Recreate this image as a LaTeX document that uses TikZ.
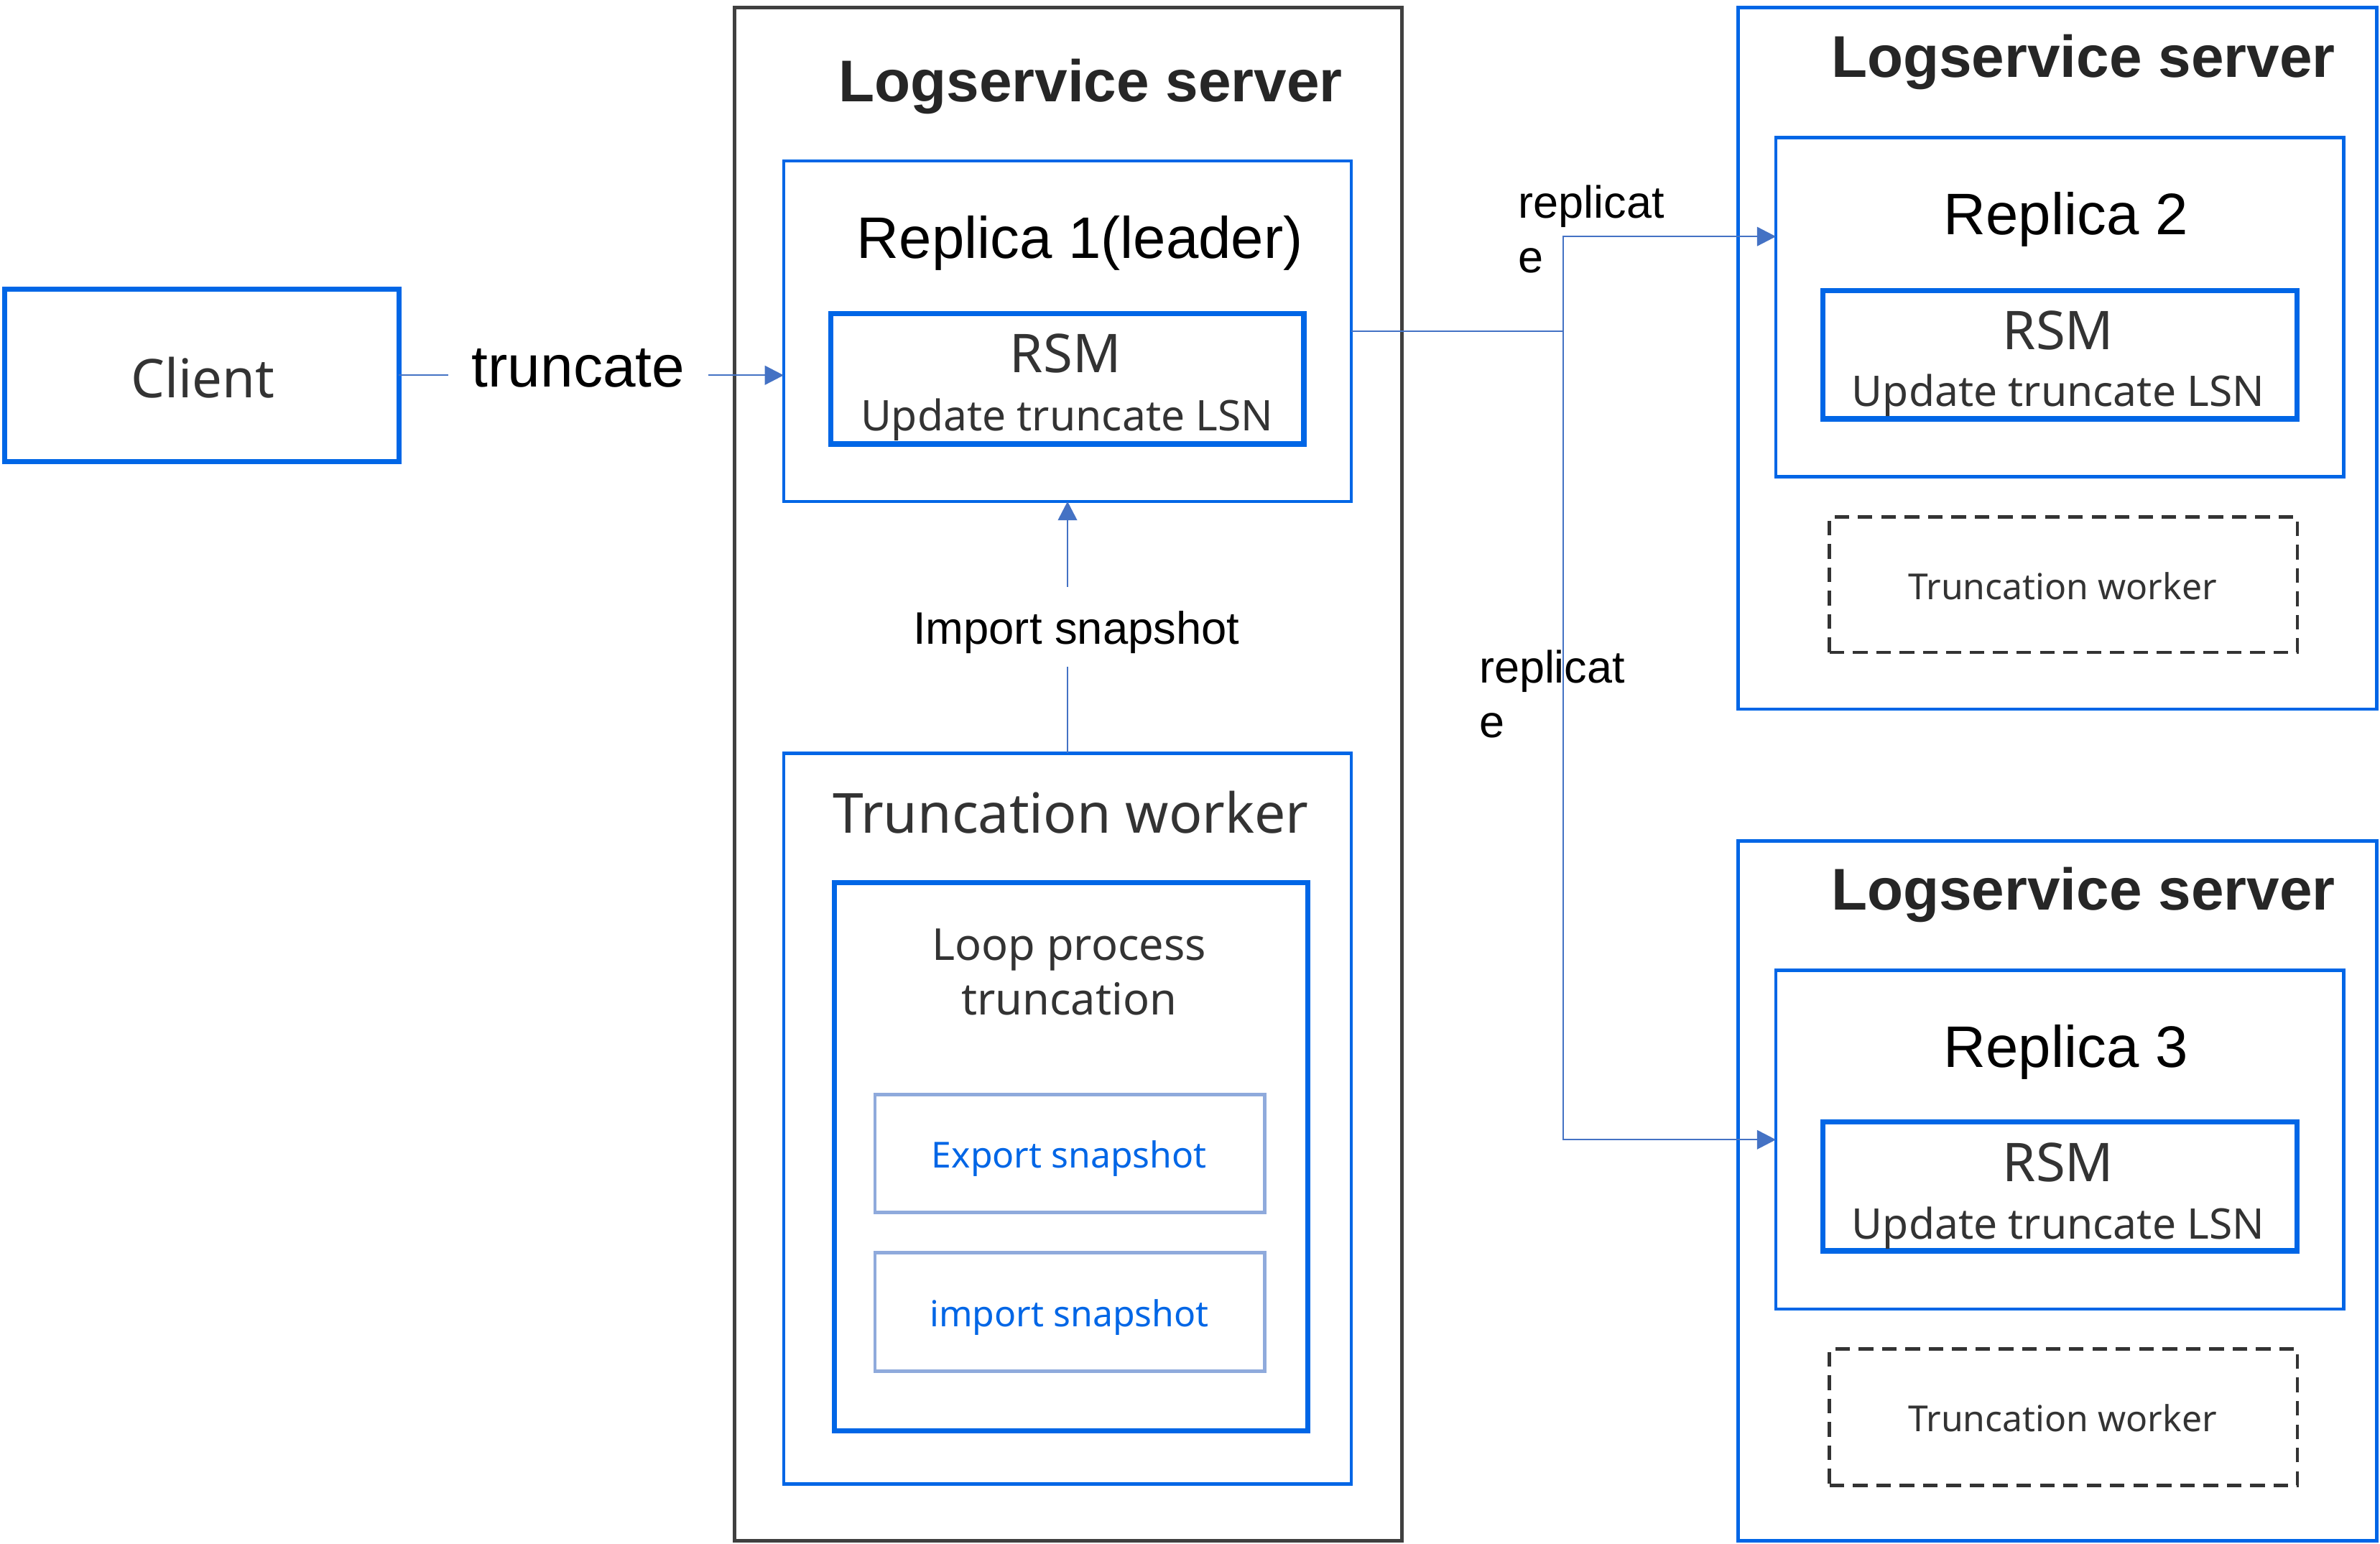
\documentclass[tikz,border=0pt]{standalone}
\usepackage{fontspec}
\setmainfont{Liberation Sans}
\newfontfamily\yh{Noto Sans}
\usetikzlibrary{arrows.meta,fit}
\definecolor{boxblue}{RGB}{0,102,230}
\definecolor{lightblue}{RGB}{143,170,220}
\definecolor{conncol}{RGB}{68,114,196}
\definecolor{txtgray}{RGB}{51,51,51}
\definecolor{srvgray}{RGB}{64,64,64}
\definecolor{titlecol}{RGB}{38,38,38}
\begin{document}
\begin{tikzpicture}[x=0.5pt,y=-0.5pt,
  frame/.style={draw, rectangle, inner sep=0pt, outer sep=0pt},
  srvgraybox/.style={frame, draw=srvgray, line width=1.15pt},
  srvbox/.style={frame, draw=boxblue, line width=1.1pt},
  repbox/.style={frame, draw=boxblue, line width=1.1pt},
  rsmbox/.style={frame, draw=boxblue, line width=1.7pt},
  snapbox/.style={frame, draw=lightblue, line width=1.1pt},
  dashbox/.style={frame, draw=txtgray, line width=1.1pt, dash pattern=on 4.8pt off 2.9pt},
  txt/.style={inner sep=0pt, outer sep=0pt, anchor=base},
  ttl/.style={txt, font=\bfseries\fontsize{19.4pt}{23pt}\selectfont, text=titlecol},
  reptxt/.style={txt, font=\fontsize{19.3pt}{23pt}\selectfont, text=black},
  rsmtxt/.style={txt, font=\yh\fontsize{17.6pt}{21pt}\selectfont, text=txtgray},
  lsntxt/.style={txt, font=\yh\fontsize{13.9pt}{17pt}\selectfont, text=txtgray},
  smalltw/.style={txt, font=\yh\fontsize{11.8pt}{14pt}\selectfont, text=txtgray},
  snaptxt/.style={txt, font=\yh\fontsize{11.8pt}{14pt}\selectfont, text=boxblue},
  repltxt/.style={txt, anchor=base west, font=\fontsize{14.9pt}{18.1pt}\selectfont, text=black},
  conn/.style={draw=conncol, line width=0.45pt, -{Triangle[length=6.2pt,width=6.3pt]}},
  plainconn/.style={draw=conncol, line width=0.45pt}
]
\useasboundingbox (0,0) rectangle (1568,1017);

% ---- boxes ----
\node[frame, draw=boxblue, line width=1.65pt, fit={(3,190.4)(262.8,304)}] (client) {};
\node[srvgraybox, fit={(483.9,4.8)(923.8,1015)}] (srv1) {};
\node[repbox, fit={(516.3,106)(890.3,330.3)}] (rep1) {};
\node[rsmbox, fit={(547.3,206.4)(859,292.5)}] (rsm1) {};
\node[repbox, fit={(516.3,496.2)(890.3,977.5)}] (tw1) {};
\node[rsmbox, fit={(549.6,581.5)(861.6,942.7)}] (loop) {};
\node[snapbox, fit={(576.5,721.1)(833.2,798.8)}] (exp) {};
\node[snapbox, fit={(576.5,825.2)(833.2,903.2)}] (imp) {};

\node[srvbox, fit={(1145,5.1)(1566,467.2)}] (srv2) {};
\node[repbox, fit={(1170,90.5)(1544,313.9)}] (rep2) {};
\node[rsmbox, fit={(1201.1,191.3)(1513.2,275.9)}] (rsm2) {};
\node[dashbox, fit={(1205.3,340.5)(1513.6,429.8)}] (tw2) {};

\node[srvbox, fit={(1145,553.9)(1566,1015)}] (srv3) {};
\node[repbox, fit={(1170,639.2)(1544,862.3)}] (rep3) {};
\node[rsmbox, fit={(1201.1,739)(1513.2,824)}] (rsm3) {};
\node[dashbox, fit={(1205.3,888.6)(1513.6,978.4)}] (tw3) {};

% ---- texts ----
\node[txt, font=\yh\fontsize{17.6pt}{21pt}\selectfont, text=txtgray] (clienttxt) at (133.5,261.9) {Client};
\node[ttl] (srv1t) at (718.5,67) {Logservice server};
\node[ttl] (srv2t) at (1372.5,51) {Logservice server};
\node[ttl] (srv3t) at (1372.5,599.4) {Logservice server};
\node[reptxt] (rep1t) at (711.5,170) {Replica 1(leader)};
\node[reptxt] (rep2t) at (1361,154.5) {Replica 2};
\node[reptxt] (rep3t) at (1361,703.1) {Replica 3};
\node[rsmtxt] (rsm1t) at (702,245.5) {RSM};
\node[rsmtxt] (rsm2t) at (1356,230.3) {RSM};
\node[rsmtxt] (rsm3t) at (1356,778.5) {RSM};
\node[lsntxt] (lsn1) at (702.9,283.5) {Update truncate LSN};
\node[lsntxt] (lsn2) at (1356,267.7) {Update truncate LSN};
\node[lsntxt] (lsn3) at (1356,816.2) {Update truncate LSN};
\node[smalltw] (tw2t) at (1358.8,394.8) {Truncation worker};
\node[smalltw] (tw3t) at (1358.8,942.9) {Truncation worker};
\node[txt, font=\yh\fontsize{18.2pt}{22pt}\selectfont, text=txtgray] (tw1t) at (705.4,549) {Truncation worker};
\node[txt, font=\yh\fontsize{14.5pt}{18pt}\selectfont, text=txtgray] (looptxt) at (704.3,632.7)
  {\begin{tabular}[t]{@{}c@{}}Loop process\\truncation\end{tabular}};
\node[snaptxt] (expt) at (704.4,769.3) {Export snapshot};
\node[snaptxt] (impt) at (704.5,873.7) {import snapshot};

% ---- connectors ----
\draw[conn] (client.east) -- (client.east -| rep1.west);
\draw[conn] (tw1.north) -- (rep1.south);
\path (rep1.east) ++(139.5,0) coordinate (split);
\coordinate (r2in) at (1170,155.8);
\draw[plainconn] (rep1.east) -- (split);
\draw[conn] (split) |- (rep2.west |- r2in);
\draw[conn] (split) |- (rep3.west);

% ---- connector labels ----
\node[txt, fill=white, minimum width=85.5pt, font=\fontsize{19.4pt}{23pt}\selectfont, text=black] (trlabel) at (381,254.8) {truncate};
\node[inner sep=0pt, fill=white, minimum height=26.4pt, text height=11.5pt, text depth=0pt, font=\fontsize{15pt}{18pt}\selectfont, text=black] (implabel) at (709.1,412.9) {Import snapshot};
\node[repltxt] (repl1) at (1000.5,143.5) {\begin{tabular}[t]{@{}l@{}}replicat\\e\end{tabular}};
\node[repltxt] (repl2) at (974.5,449.7) {\begin{tabular}[t]{@{}l@{}}replicat\\e\end{tabular}};
\end{tikzpicture}
\end{document}
